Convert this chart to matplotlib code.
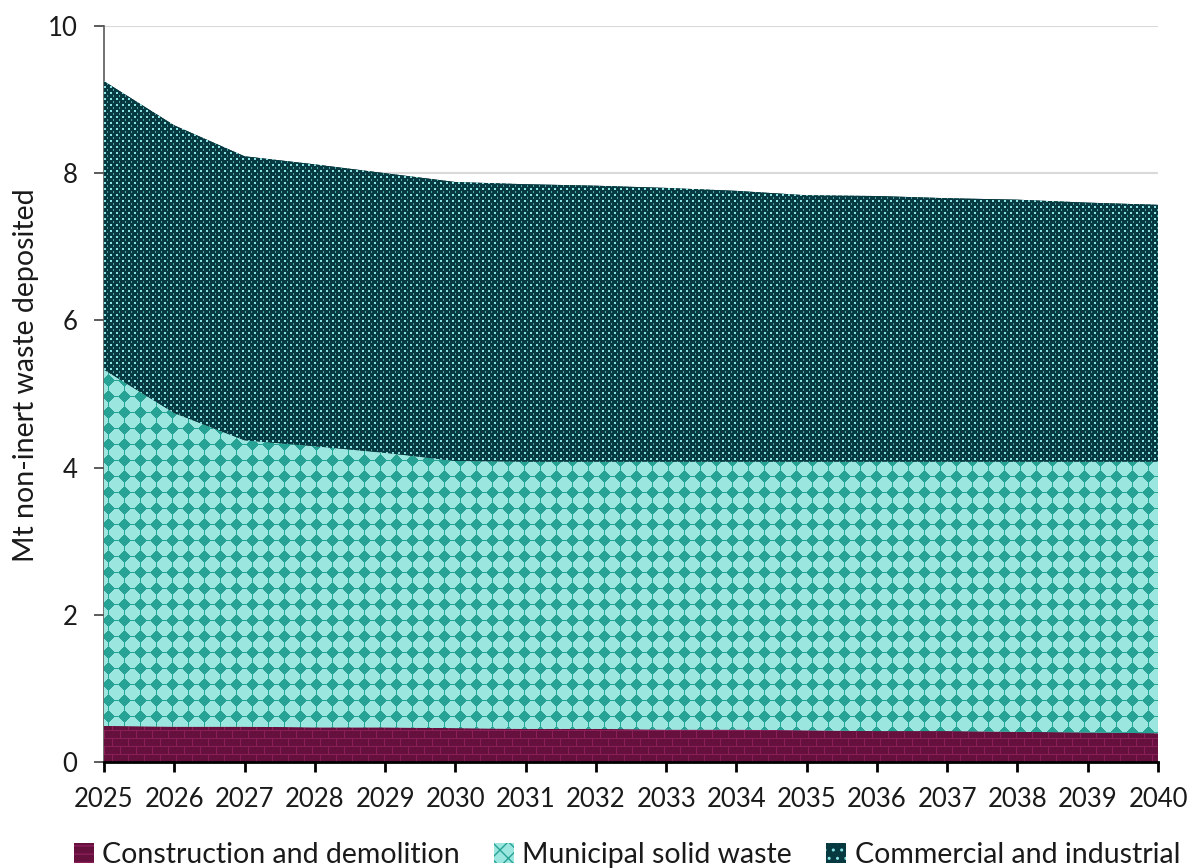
import numpy as np
import matplotlib
matplotlib.use("Agg")
import matplotlib.pyplot as plt
from matplotlib.patches import Patch

# Annual deposits (Mt) by waste stream
years = [2025, 2026, 2027, 2028, 2029, 2030, 2031, 2032,
         2033, 2034, 2035, 2036, 2037, 2038, 2039, 2040]
construction_demolition = [0.49, 0.48, 0.48, 0.47, 0.47, 0.46, 0.45, 0.45,
                           0.44, 0.44, 0.43, 0.42, 0.42, 0.41, 0.40, 0.39]
municipal_solid = [4.84, 4.26, 3.89, 3.82, 3.73, 3.63, 3.63, 3.63,
                   3.64, 3.64, 3.65, 3.66, 3.66, 3.67, 3.68, 3.69]
commercial_industrial = [3.92, 3.91, 3.86, 3.83, 3.80, 3.79, 3.77, 3.75,
                         3.72, 3.68, 3.62, 3.61, 3.58, 3.56, 3.52, 3.49]
series_names = ["Construction and demolition", "Municipal solid waste",
                "Commercial and industrial"]
y_ticks = [0, 2, 4, 6, 8, 10]

plt.rcParams["font.family"] = ["Lato", "DejaVu Sans"]

W_PX, H_PX = 1192, 868
fig = plt.figure(figsize=(W_PX / 100, H_PX / 100), dpi=100)
ax_left, ax_right, ax_top, ax_bottom = 104, 1158, 26, 762
ax = fig.add_axes([ax_left / W_PX, 1 - ax_bottom / H_PX,
                   (ax_right - ax_left) / W_PX, (ax_bottom - ax_top) / H_PX])
AW, AH = ax_right - ax_left, ax_bottom - ax_top


def hexrgb(h):
    h = h.lstrip("#")
    return np.array([int(h[i:i + 2], 16) / 255 for i in (0, 2, 4)])


yy, xx = np.mgrid[0:AH, 0:AW]

# brick texture
def brick_texture():
    base, mortar = hexrgb("#66103d"), hexrgb("#8c1f5a")
    img = np.empty((AH, AW, 3))
    img[:] = base
    bh, bw = 8, 16
    row = yy // bh
    shift = (row % 2) * (bw // 2)
    hline = (yy % bh) == 0
    vline = ((xx + shift) % bw) == 0
    img[hline | vline] = mortar
    return img


# star / circle lattice texture
def star_texture():
    light, dark = hexrgb("#9be6df"), hexrgb("#27a395")
    p = 16.0
    dx = ((xx + 4) % p) - p / 2
    dy = ((yy + 6) % p) - p / 2
    ax_ = np.abs(dx) + 0.01
    ay_ = np.abs(dy) + 0.01
    astroid = ax_ ** (2 / 3) + ay_ ** (2 / 3) < 8.2 ** (2 / 3)
    disk = dx ** 2 + dy ** 2 < 4.6 ** 2
    mask = astroid | disk
    img = np.empty((AH, AW, 3))
    img[:] = light
    img[mask] = dark
    return img


# dotted texture
def dot_texture():
    base, dot, dim = hexrgb("#063a40"), hexrgb("#8ae6e6"), hexrgb("#4fa7ad")
    img = np.empty((AH, AW, 3))
    img[:] = base
    big = ((xx % 6) < 2) & ((yy % 6) < 2)
    small = ((xx % 6) == 3) & ((yy % 6) >= 3) & ((yy % 6) < 5)
    img[big] = dot
    img[small] = dim
    return img


x = np.array(years, dtype=float)
cd = np.array(construction_demolition)
ms = np.array(municipal_solid)
ci = np.array(commercial_industrial)
levels = [np.zeros_like(cd), cd, cd + ms, cd + ms + ci]
textures = [brick_texture(), star_texture(), dot_texture()]
base_colors = ["#66103d", "#9be6df", "#063a40"]

ax.set_xlim(years[0], years[-1])
ax.set_ylim(0, 10)

for i in range(3):
    coll = ax.fill_between(x, levels[i], levels[i + 1], facecolor=base_colors[i],
                           edgecolor="none", linewidth=0, zorder=2)
    im = ax.imshow(textures[i], extent=[years[0], years[-1], 0, 10],
                   origin="upper", aspect="auto", interpolation="nearest",
                   zorder=3)
    im.set_clip_path(coll.get_paths()[0], transform=ax.transData)

ax.set_xlim(years[0], years[-1])
ax.set_ylim(0, 10)
ax.set_xticks(years)
ax.set_xticklabels([str(y) for y in years])
ax.set_yticks(y_ticks)
ax.grid(axis="y", color="#d9d9d9", linewidth=1.5, zorder=0)
ax.set_axisbelow(True)

for s in ("top", "right"):
    ax.spines[s].set_visible(False)
ax.spines["left"].set_color("#595959")
ax.spines["left"].set_linewidth(1.2)
ax.spines["bottom"].set_color("#000000")
ax.spines["bottom"].set_linewidth(2.0)
ax.spines["bottom"].set_zorder(5)
ax.tick_params(axis="x", direction="out", length=7, width=2, color="black",
               labelsize=18.5, pad=11, labelcolor="#1a1a1a")
ax.tick_params(axis="y", direction="out", length=7, width=1.2, color="#404040",
               labelsize=18.5, pad=12, labelcolor="#1a1a1a")
ax.set_ylabel("Mt non-inert waste deposited", fontsize=20.5, color="#1a1a1a")
ax.yaxis.set_label_coords(-0.062, 0.525)

handles = [
    Patch(facecolor="#66103d", edgecolor="#8c1f5a", hatch="--", linewidth=0),
    Patch(facecolor="#9be6df", edgecolor="#27a395", hatch="xx", linewidth=0),
    Patch(facecolor="#063a40", edgecolor="#86e3e3", hatch="..", linewidth=0),
]
leg = fig.legend(handles, series_names, loc="center", ncol=3,
                 bbox_to_anchor=(0.526, 0.015), frameon=False, fontsize=20.5,
                 handlelength=0.7, handleheight=0.7, handletextpad=0.3,
                 columnspacing=1.2, labelcolor="#1a1a1a")

fig.savefig("out.png", dpi=100)
